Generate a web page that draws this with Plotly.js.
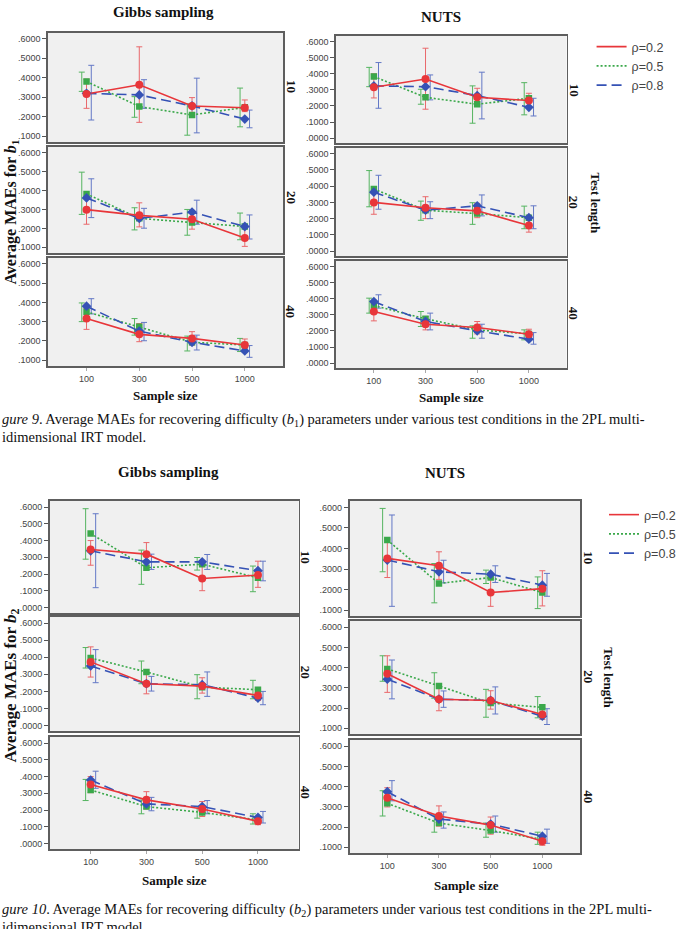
<!DOCTYPE html>
<html><head><meta charset="utf-8">
<script src="https://cdn.plot.ly/plotly-3.0.1.min.js"></script>
<style>html,body{margin:0;padding:0;background:#fff}#chart{width:681px;height:929px}</style>
</head><body><div id="chart"></div>
<script>
// ---------- categories / labels ----------
const sampleSizes = ['100', '300', '500', '1000'];
const rhoLabels = ['ρ=0.2', 'ρ=0.5', 'ρ=0.8'];
const testLengths = ['10', '20', '40'];
const yTicksFrom0 = [0, 0.1, 0.2, 0.3, 0.4, 0.5, 0.6];
const yTicksFrom1 = [0.1, 0.2, 0.3, 0.4, 0.5, 0.6];

// ---------- Figure 9 (b1), Gibbs sampling ----------  rows: [rho=0.2, rho=0.5, rho=0.8]
const b1_gibbs_10_mean = [[0.317, 0.364, 0.255, 0.246], [0.381, 0.252, 0.209, 0.248], [0.320, 0.312, 0.255, 0.188]];
const b1_gibbs_10_lo   = [[0.243, 0.171, 0.209, 0.226], [0.330, 0.197, 0.105, 0.148], [0.183, 0.243, 0.117, 0.143]];
const b1_gibbs_10_hi   = [[0.393, 0.559, 0.298, 0.286], [0.429, 0.303, 0.266, 0.347], [0.464, 0.390, 0.398, 0.234]];
const b1_gibbs_20_mean = [[0.299, 0.269, 0.248, 0.149], [0.382, 0.253, 0.231, 0.210], [0.361, 0.253, 0.286, 0.210]];
const b1_gibbs_20_lo   = [[0.222, 0.208, 0.196, 0.105], [0.274, 0.192, 0.164, 0.140], [0.257, 0.201, 0.222, 0.144]];
const b1_gibbs_20_hi   = [[0.370, 0.335, 0.295, 0.205], [0.497, 0.309, 0.300, 0.281], [0.462, 0.306, 0.349, 0.271]];
const b1_gibbs_40_mean = [[0.316, 0.234, 0.213, 0.179], [0.351, 0.273, 0.193, 0.179], [0.380, 0.251, 0.193, 0.148]];
const b1_gibbs_40_lo   = [[0.260, 0.196, 0.179, 0.162], [0.300, 0.230, 0.148, 0.145], [0.340, 0.201, 0.153, 0.115]];
const b1_gibbs_40_hi   = [[0.368, 0.290, 0.248, 0.210], [0.397, 0.316, 0.225, 0.213], [0.419, 0.296, 0.230, 0.176]];

// ---------- Figure 9 (b1), NUTS ----------
const b1_nuts_10_mean = [[0.316, 0.368, 0.254, 0.234], [0.383, 0.254, 0.211, 0.248], [0.325, 0.320, 0.265, 0.192]];
const b1_nuts_10_lo   = [[0.250, 0.180, 0.210, 0.196], [0.320, 0.211, 0.093, 0.145], [0.186, 0.238, 0.120, 0.138]];
const b1_nuts_10_hi   = [[0.400, 0.559, 0.310, 0.279], [0.440, 0.304, 0.325, 0.345], [0.470, 0.393, 0.410, 0.248]];
const b1_nuts_20_mean = [[0.300, 0.267, 0.248, 0.158], [0.383, 0.252, 0.231, 0.206], [0.363, 0.252, 0.279, 0.206]];
const b1_nuts_20_lo   = [[0.227, 0.200, 0.206, 0.117], [0.273, 0.190, 0.165, 0.138], [0.258, 0.200, 0.217, 0.138]];
const b1_nuts_20_hi   = [[0.370, 0.335, 0.294, 0.210], [0.496, 0.308, 0.298, 0.277], [0.467, 0.304, 0.346, 0.279]];
const b1_nuts_40_mean = [[0.321, 0.242, 0.222, 0.180], [0.359, 0.276, 0.207, 0.182], [0.383, 0.259, 0.201, 0.149]];
const b1_nuts_40_lo   = [[0.263, 0.207, 0.182, 0.145], [0.311, 0.228, 0.155, 0.145], [0.342, 0.207, 0.155, 0.118]];
const b1_nuts_40_hi   = [[0.370, 0.290, 0.259, 0.211], [0.404, 0.321, 0.232, 0.207], [0.425, 0.311, 0.242, 0.190]];

// ---------- Figure 10 (b2), Gibbs sampling ----------
const b2_gibbs_10_mean = [[0.347, 0.319, 0.174, 0.194], [0.442, 0.238, 0.259, 0.178], [0.339, 0.273, 0.273, 0.220]];
const b2_gibbs_10_lo   = [[0.253, 0.250, 0.101, 0.121], [0.289, 0.139, 0.224, 0.095], [0.119, 0.228, 0.228, 0.160]];
const b2_gibbs_10_hi   = [[0.400, 0.388, 0.253, 0.277], [0.590, 0.343, 0.299, 0.248], [0.560, 0.319, 0.317, 0.277]];
const b2_gibbs_20_mean = [[0.373, 0.245, 0.231, 0.176], [0.396, 0.314, 0.225, 0.210], [0.349, 0.245, 0.239, 0.161]];
const b2_gibbs_20_lo   = [[0.284, 0.186, 0.190, 0.147], [0.337, 0.245, 0.157, 0.157], [0.251, 0.202, 0.171, 0.122]];
const b2_gibbs_20_hi   = [[0.461, 0.310, 0.280, 0.210], [0.457, 0.378, 0.298, 0.265], [0.445, 0.288, 0.314, 0.200]];
const b2_gibbs_40_mean = [[0.353, 0.261, 0.207, 0.133], [0.320, 0.221, 0.186, 0.142], [0.379, 0.237, 0.221, 0.156]];
const b2_gibbs_40_lo   = [[0.304, 0.207, 0.162, 0.113], [0.257, 0.178, 0.152, 0.117], [0.330, 0.196, 0.178, 0.123]];
const b2_gibbs_40_hi   = [[0.400, 0.310, 0.251, 0.158], [0.383, 0.260, 0.221, 0.178], [0.432, 0.276, 0.257, 0.192]];

// ---------- Figure 10 (b2), NUTS ----------
const b2_nuts_10_mean = [[0.352, 0.316, 0.186, 0.205], [0.441, 0.230, 0.259, 0.186], [0.344, 0.287, 0.275, 0.222]];
const b2_nuts_10_lo   = [[0.259, 0.250, 0.119, 0.121], [0.287, 0.136, 0.230, 0.108], [0.119, 0.233, 0.235, 0.168]];
const b2_nuts_10_hi   = [[0.446, 0.384, 0.254, 0.292], [0.595, 0.327, 0.295, 0.262], [0.563, 0.343, 0.316, 0.279]];
const b2_nuts_20_mean = [[0.370, 0.244, 0.238, 0.168], [0.394, 0.310, 0.225, 0.204], [0.343, 0.244, 0.238, 0.160]];
const b2_nuts_20_lo   = [[0.278, 0.187, 0.195, 0.144], [0.333, 0.249, 0.155, 0.152], [0.246, 0.204, 0.171, 0.119]];
const b2_nuts_20_hi   = [[0.459, 0.305, 0.286, 0.200], [0.459, 0.375, 0.293, 0.257], [0.438, 0.285, 0.305, 0.197]];
const b2_nuts_40_mean = [[0.345, 0.255, 0.210, 0.130], [0.318, 0.220, 0.183, 0.140], [0.375, 0.240, 0.215, 0.155]];
const b2_nuts_40_lo   = [[0.300, 0.205, 0.165, 0.110], [0.255, 0.175, 0.150, 0.115], [0.330, 0.195, 0.175, 0.120]];
const b2_nuts_40_hi   = [[0.395, 0.305, 0.250, 0.160], [0.380, 0.260, 0.220, 0.175], [0.430, 0.275, 0.255, 0.190]];

// ---------- styling / geometry ----------
const W = 681, H = 929;
const fx = p => p / W;
const fy = p => 1 - p / H;
const lineColors = ['#e8363a', '#3aa84a', '#3552b5'];
const errColors = ['#e9686b', '#55b460', '#6378c6'];
const dashes = ['solid', '2px,2px', '10px,5px'];
const symbols = ['circle', 'square', 'diamond'];
const msizes = [8, 6.5, 7.5];
const errOffset = [0, -0.09, 0.09];
const tickFont = {family: 'Liberation Sans Narrow, Liberation Sans, Arial', size: 9, color: '#444'};
const serifBold = 'Liberation Serif, Times New Roman, serif';
const legendFont = {family: 'Liberation Sans, Arial', size: 12.5, color: '#444'};

const groups = [
  {fig: 'b1', m: 'gibbs', x: [50, 295], ys: [[33, 142], [147, 253], [258, 366]], range: [0.07, 0.63], ticks: yTicksFrom1,
   data: [[b1_gibbs_10_mean, b1_gibbs_10_lo, b1_gibbs_10_hi], [b1_gibbs_20_mean, b1_gibbs_20_lo, b1_gibbs_20_hi], [b1_gibbs_40_mean, b1_gibbs_40_lo, b1_gibbs_40_hi]]},
  {fig: 'b1', m: 'nuts', x: [350, 590], ys: [[36, 143], [148, 256], [261, 368]], range: [-0.03, 0.635], ticks: yTicksFrom0, legend: 'legend',
   data: [[b1_nuts_10_mean, b1_nuts_10_lo, b1_nuts_10_hi], [b1_nuts_20_mean, b1_nuts_20_lo, b1_nuts_20_hi], [b1_nuts_40_mean, b1_nuts_40_lo, b1_nuts_40_hi]]},
  {fig: 'b2', m: 'gibbs', x: [52, 311], ys: [[501, 613], [617, 731], [737, 849]], range: [-0.032, 0.636], ticks: yTicksFrom0,
   data: [[b2_gibbs_10_mean, b2_gibbs_10_lo, b2_gibbs_10_hi], [b2_gibbs_20_mean, b2_gibbs_20_lo, b2_gibbs_20_hi], [b2_gibbs_40_mean, b2_gibbs_40_lo, b2_gibbs_40_hi]]},
  {fig: 'b2', m: 'nuts', x: [364, 604], ys: [[501, 616], [621, 734], [740, 853]], range: [0.072, 0.631], ticks: yTicksFrom1, legend: 'legend2',
   data: [[b2_nuts_10_mean, b2_nuts_10_lo, b2_nuts_10_hi], [b2_nuts_20_mean, b2_nuts_20_lo, b2_nuts_20_hi], [b2_nuts_40_mean, b2_nuts_40_lo, b2_nuts_40_hi]]}
];

const traces = [];
const layout = {
  width: W, height: H, margin: {l: 0, r: 0, t: 0, b: 0},
  paper_bgcolor: '#ffffff', plot_bgcolor: '#f0f0f0',
  showlegend: true,
  legend: {x: fx(616), y: fy(32), xanchor: 'left', yanchor: 'top', bgcolor: 'rgba(0,0,0,0)',
           font: legendFont, tracegroupgap: 0},
  legend2: {x: fx(629), y: fy(500), xanchor: 'left', yanchor: 'top', bgcolor: 'rgba(0,0,0,0)',
           font: legendFont, tracegroupgap: 0},
  annotations: [], shapes: []
};

let ax = 0;
groups.forEach(g => {
  g.ys.forEach((yy, r) => {
    ax++;
    const xa = 'x' + (ax === 1 ? '' : ax), ya = 'y' + (ax === 1 ? '' : ax);
    const xk = 'xaxis' + (ax === 1 ? '' : ax), yk = 'yaxis' + (ax === 1 ? '' : ax);
    const bottom = r === 2;
    layout[xk] = {domain: [fx(g.x[0]), fx(g.x[1])], anchor: ya, range: [-0.73, 3.73],
      tickvals: [0, 1, 2, 3], ticktext: sampleSizes, showticklabels: bottom,
      ticks: bottom ? 'outside' : '', ticklen: 3, tickcolor: '#aaa', tickfont: tickFont,
      showgrid: false, zeroline: false, showline: true, mirror: true, linecolor: '#5e5e5e', linewidth: 1.8, fixedrange: true};
    layout[yk] = {domain: [fy(yy[1]), fy(yy[0])], anchor: xa, range: g.range,
      tickvals: g.ticks, ticktext: g.ticks.map(v => v.toFixed(4).replace(/^0/, '')),
      ticks: 'outside', ticklen: 4, tickcolor: '#555', tickfont: tickFont,
      showgrid: false, zeroline: false, showline: true, mirror: true, linecolor: '#5e5e5e', linewidth: 1.8, fixedrange: true};
    const [mean, lo, hi] = g.data[r];
    // error bars (dodged)
    [1, 0, 2].forEach(s => {
      traces.push({type: 'scatter', mode: 'markers', xaxis: xa, yaxis: ya, showlegend: false, hoverinfo: 'skip',
        x: [0, 1, 2, 3].map(i => i + errOffset[s]), y: mean[s],
        marker: {size: 2, opacity: 0},
        error_y: {type: 'data', symmetric: false, array: hi[s].map((v, i) => v - mean[s][i]),
                  arrayminus: lo[s].map((v, i) => mean[s][i] - v), color: errColors[s], thickness: 1, width: 3}});
    });
    // lines
    [1, 2, 0].forEach(s => {
      const t = {type: 'scatter', mode: 'lines', xaxis: xa, yaxis: ya, name: rhoLabels[s],
        x: [0, 1, 2, 3], y: mean[s], line: {color: lineColors[s], width: 1.6, dash: dashes[s]}, showlegend: false};
      if (g.legend && r === 0) { t.showlegend = true; t.legend = g.legend; t.legendrank = s; }
      traces.push(t);
    });
    // markers
    [1, 2, 0].forEach(s => {
      traces.push({type: 'scatter', mode: 'markers', xaxis: xa, yaxis: ya, showlegend: false,
        x: [0, 1, 2, 3], y: mean[s], marker: {color: lineColors[s], symbol: symbols[s], size: msizes[s]}});
    });
  });
});

const A = layout.annotations;
function txt(x, y, text, opt) {
  A.push(Object.assign({xref: 'paper', yref: 'paper', x: fx(x), y: fy(y), text: text, showarrow: false,
    xanchor: 'center', yanchor: 'middle', font: {family: serifBold, size: 13, color: '#111'}}, opt || {}));
}
// Figure 9 headings
txt(170, 12, '<b>Gibbs sampling</b>', {font: {family: serifBold, size: 15, color: '#111'}});
txt(459, 17, '<b>NUTS</b>', {font: {family: serifBold, size: 15, color: '#111'}});
txt(12, 212, '<b>Average MAEs for <i>b</i><sub>1</sub></b>', {textangle: -90, font: {family: serifBold, size: 16, color: '#111'}});
txt(172, 396, '<b>Sample size</b>');
txt(470, 398, '<b>Sample size</b>');
[[87, 198, 312], [90, 202, 313]].forEach((ys, c) => {
  ys.forEach((y, r) => txt(c === 0 ? 303 : 598, y, '<b>' + testLengths[r] + '</b>', {textangle: 90}));
});
txt(621, 203, '<b>Test length</b>', {textangle: 90});
// Figure 10 headings
txt(175, 472, '<b>Gibbs sampling</b>', {font: {family: serifBold, size: 15, color: '#111'}});
txt(463, 473, '<b>NUTS</b>', {font: {family: serifBold, size: 15, color: '#111'}});
txt(12, 686, '<b>Average MAEs for <i>b</i><sub>2</sub></b>', {textangle: -90, font: {family: serifBold, size: 17, color: '#111'}});
txt(182, 880, '<b>Sample size</b>');
txt(486, 885, '<b>Sample size</b>');
[[557, 672, 792], [558, 677, 797]].forEach((ys, c) => {
  ys.forEach((y, r) => txt(c === 0 ? 319 : 613, y, '<b>' + testLengths[r] + '</b>', {textangle: 90}));
});
txt(634, 678, '<b>Test length</b>', {textangle: 90});
// Captions
const capFont = {family: 'Liberation Serif, Times New Roman, serif', size: 14.5, color: '#111'};
txt(0, 420, '<i>gure 9</i>. Average MAEs for recovering difficulty (<i>b</i><sub>1</sub>) parameters under various test conditions in the 2PL multi-', {xanchor: 'left', font: capFont});
txt(0, 437, 'idimensional IRT model.', {xanchor: 'left', font: capFont});
txt(0, 910, '<i>gure 10</i>. Average MAEs for recovering difficulty (<i>b</i><sub>2</sub>) parameters under various test conditions in the 2PL multi-', {xanchor: 'left', font: capFont});
txt(0, 927, 'idimensional IRT model.', {xanchor: 'left', font: capFont});

Plotly.newPlot('chart', traces, layout, {staticPlot: true, displayModeBar: false});
</script>
</body></html>
